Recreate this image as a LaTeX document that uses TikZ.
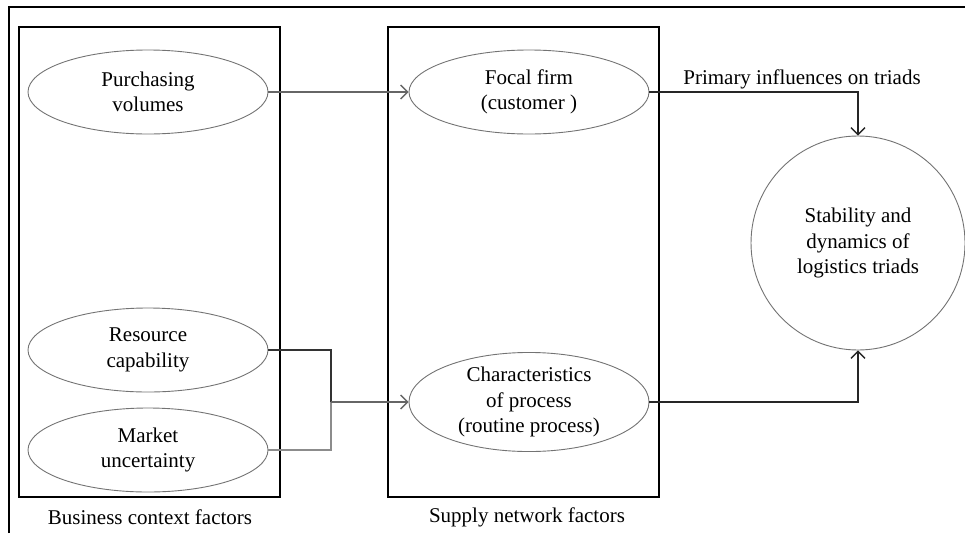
\documentclass[tikz,border=0pt]{standalone}
\usepackage{fontspec}
\setmainfont{Liberation Serif}
\usetikzlibrary{arrows.meta,shapes.geometric}
\begin{document}
\begin{tikzpicture}[x=1pt,y=-1pt,
  txt/.style={font=\fontsize{21}{25.5}\selectfont},
  factor/.style={ellipse,draw=black!55,line width=0.9pt,minimum width=240pt,minimum height=84pt,inner sep=0pt,align=center,txt},
  group/.style={draw=black,line width=2.6pt},
  tip/.style={-{Straight Barb[length=7pt,width=14pt,line width=1.3pt]}},
  feed/.style={draw=black!60,line width=1.3pt,tip},
  link/.style={draw=black!85,line width=2pt,tip}]
\useasboundingbox (0,0) rectangle (965,533);
% outer frame
\draw[line width=2.4pt] (9,533) -- (9,7) -- (966,7);
% group boxes
\draw[group] (19,27) rectangle (280,497);
\draw[group] (388,27) rectangle (659,497);
\node[txt] (blab) at (150,517) {Business context factors};
\node[txt] (slab) at (527,517) {Supply network factors};
% factors
\node[factor] (pv) at (148,92) {Purchasing\\volumes};
\node[factor] (rc) at (148,350) {Resource\\capability};
\node[factor] (mu) at (148,450) {Market\\uncertainty};
\node[factor] (ff) at (529,92) {Focal firm\\(customer )};
\node[factor] (cp) at (529,402) {Characteristics\\of process\\(routine process)};
\node[circle,draw=black!55,line width=0.9pt,minimum size=214pt,inner sep=0pt,align=center,txt] (st) at (858,243) {Stability and\\dynamics of\\logistics triads};
% connectors
\coordinate (j) at (331,402);
\draw[feed] (pv.east) -- (ff.west);
\draw[draw=black!80,line width=1.2pt] (rc.east) -| (j);
\draw[draw=black!45,line width=1.2pt] (mu.east) -| (j);
\draw[feed] (j) -- (cp.west);
\draw[link] (ff.east) -| (st.north);
\draw[link] (cp.east) -| (st.south);
\node[txt,anchor=base] (pl) at (802,84) {Primary influences on triads};
\end{tikzpicture}
\end{document}
